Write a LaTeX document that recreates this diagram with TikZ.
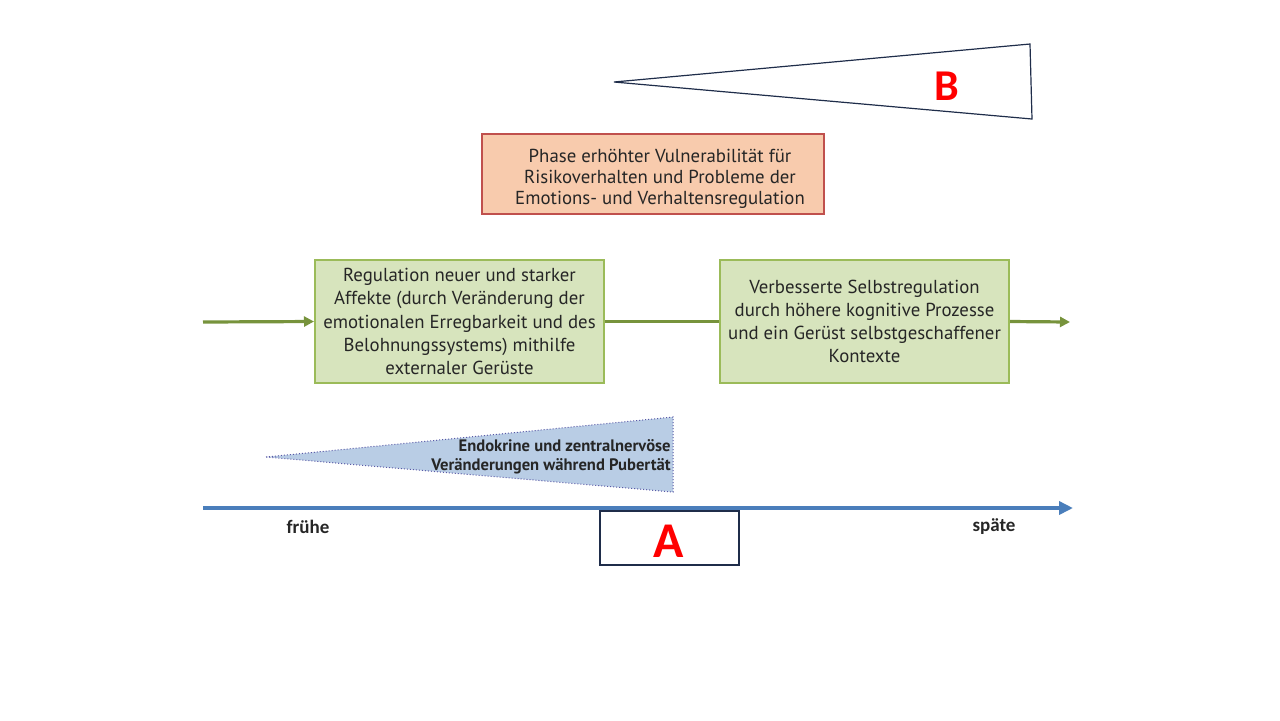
\documentclass[tikz,border=0pt]{standalone}
\usepackage{fontspec}
\setmainfont{PT Sans}
\newfontfamily\calfont{Carlito}
\usetikzlibrary{arrows.meta}
\definecolor{grfill}{HTML}{D7E4BD}
\definecolor{grline}{HTML}{9BBB59}
\definecolor{grarrow}{HTML}{77933C}
\definecolor{orfill}{HTML}{F8CBAD}
\definecolor{orline}{HTML}{C0504D}
\definecolor{blfill}{HTML}{B9CDE5}
\definecolor{blaxis}{HTML}{4A7EBB}
\definecolor{dkline}{HTML}{1F2D4A}
\tikzset{
  greenbox/.style={draw=grline, fill=grfill, line width=1pt, inner sep=0pt, align=center,
    minimum width=144.5pt, minimum height=61.5pt, font=\fontsize{9.4pt}{11.6pt}\selectfont, text=black!85},
  greenarrow/.style={draw=grarrow, line width=1.6pt, -{Triangle[length=5pt,width=5pt]}},
  greenline/.style={draw=grarrow, line width=1.6pt},
  letter/.style={text=red, font=\calfont\bfseries\fontsize{22pt}{22pt}\selectfont, inner sep=0pt},
  axislabel/.style={font=\calfont\bfseries\fontsize{9.5pt}{10pt}\selectfont, inner sep=0pt, text=black!85},
}
\begin{document}
\begin{tikzpicture}[x=0.5pt,y=-0.5pt]
\useasboundingbox (0,0) rectangle (1280,720);
% triangle B
\coordinate (btip) at (614,82);
\coordinate (btr) at (1030,44);
\coordinate (bbr) at (1032,119);
\draw[dkline, line width=0.6pt, fill=white] (btip) -- (btr) -- (bbr) -- cycle;
\node[letter] (B) at (947,86) {B};
% orange box
\node[draw=orline, fill=orfill, line width=0.8pt, minimum width=171pt, minimum height=40pt, inner sep=0pt] (vul) at (653,174) {};
\node[align=center, inner sep=0pt, font=\fontsize{9.4pt}{10.6pt}\selectfont, text=black!85] (vultext) at (660,179)
  {Phase erhöhter Vulnerabilität für\\Risikoverhalten und Probleme der\\Emotions- und Verhaltensregulation};
% green boxes
\node[greenbox] (reg) at (459.5,321.5) {Regulation neuer und starker\\Affekte (durch Veränderung der\\emotionalen Erregbarkeit und des\\Belohnungssystems) mithilfe\\externaler Gerüste};
\node[greenbox] (self) at (864.5,321.5) {Verbesserte Selbstregulation\\durch höhere kognitive Prozesse\\und ein Gerüst selbstgeschaffener\\Kontexte};
\coordinate (gstart) at (203,322);
\coordinate (gend) at (1070,322);
\draw[greenarrow] (gstart) -- (reg.west);
\draw[greenline] (reg.east) -- (self.west);
\draw[greenarrow] (self.east) -- (gend);
% blue triangle
\coordinate (ttip) at (266,457);
\coordinate (ttr) at (673,417);
\coordinate (tbr) at (673,492);
\draw[fill=blfill, draw=gray!70!blue, line width=0.5pt, densely dotted] (ttip) -- (ttr) -- (tbr) -- cycle;
\node[anchor=east, align=right, inner sep=0pt, font=\bfseries\fontsize{8.3pt}{9.6pt}\selectfont, text=black!85] (endo) at (671,457)
  {Endokrine und zentralnervöse\\Veränderungen während Pubertät};
% axis
\coordinate (astart) at (203,508);
\coordinate (aend) at (1073,508);
\draw[blaxis, line width=2pt, -{Triangle[length=7pt,width=6.5pt]}] (astart) -- (aend);
\node[axislabel] (frueh) at (308,527) {frühe};
\node[axislabel] (spaet) at (994,527) {späte};
% box A
\node[draw=dkline, fill=white, line width=0.6pt, minimum width=69.5pt, minimum height=27pt, inner sep=0pt] (boxA) at (669.5,538) {};
\node[letter, font=\calfont\bfseries\fontsize{25pt}{25pt}\selectfont] (A) at (669,541) {A};
\end{tikzpicture}
\end{document}
